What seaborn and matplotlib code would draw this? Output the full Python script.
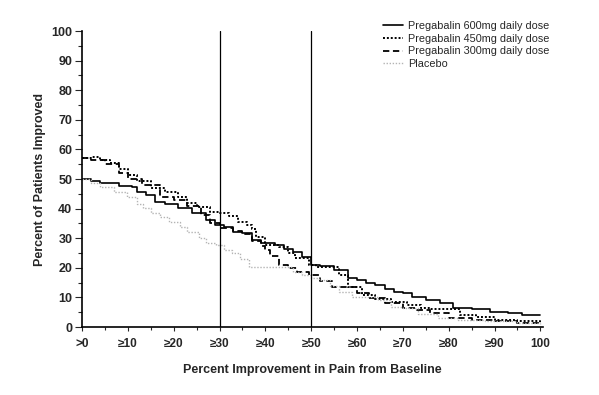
import matplotlib
matplotlib.use("Agg")
import matplotlib.pyplot as plt
import seaborn as sns
from matplotlib.ticker import MultipleLocator

# percent improvement (step breakpoints) and percent of patients improved
x_600 = [0, 2, 4, 8, 11, 12, 14, 16, 18, 21, 24, 27, 29, 31, 33, 35, 37, 39,
         42, 44, 46, 48, 50, 52, 55, 58, 60, 62, 64, 66, 68, 70, 72, 75, 78,
         81, 85, 89, 93, 96, 100]
y_600 = [50, 49.5, 48.8, 47.7, 47.4, 45.7, 44.6, 42.3, 41.5, 40.2, 38.5, 36,
         34.5, 33.8, 32.2, 31.7, 29.5, 28.4, 27.7, 26.5, 25.4, 23.5, 21, 20.5,
         19.3, 16.6, 15.9, 14.9, 14.2, 13, 11.9, 11.4, 10.2, 9.1, 8.1, 6.4, 6,
         5.2, 4.7, 4.2, 4]

x_450 = [0, 2, 4, 6, 8, 10, 12, 15, 18, 21, 23, 25, 28, 30, 32, 34, 36, 37,
         38, 40, 43, 45, 46.5, 49.5, 51, 56, 58, 61, 64, 67.5, 71, 74, 76,
         82.5, 86, 90, 95, 100]
y_450 = [57, 57.5, 56.5, 55.4, 53.5, 51.5, 49.5, 47, 45.5, 44, 42, 40.6, 39,
         38.4, 37.5, 35.6, 34.5, 33, 30.5, 27.7, 27, 25, 23.2, 21, 20.4, 17.6,
         13.6, 10.8, 9.5, 8.5, 7.5, 6.5, 6.1, 4, 3.5, 2.4, 2, 1.5]

x_300 = [0, 2, 5, 8, 10, 13, 17, 20, 23, 26, 28, 30, 33, 35, 37, 39, 40, 41,
         43, 45, 47, 49.5, 52, 54.5, 58, 60, 62.5, 66, 70, 73, 76, 80, 85, 90,
         95, 100]
y_300 = [57, 56.5, 55, 52, 50, 48, 44, 43, 41, 38, 35, 33.4, 32.5, 31.5, 29,
         27.5, 26, 24, 21, 19.8, 18.5, 17.6, 15.5, 13.6, 13.6, 11.5, 9.7, 8,
         6.3, 5.7, 4.6, 2.9, 2.5, 2, 1.5, 1.3]

x_pbo = [0, 2, 4, 7, 9.7, 12, 13.3, 15, 17, 19, 21.3, 23, 25.6, 27, 29.2, 31,
         32.8, 34.5, 36.4, 45, 46, 48, 50, 51.6, 54, 56, 58.8, 64.6, 67.5, 70,
         73.3, 77.7, 82, 88, 95, 100]
y_pbo = [50, 48.5, 47.4, 45.5, 44, 41.5, 40.1, 38.5, 37.3, 35.5, 33.9, 32, 30,
         28.5, 27.7, 26, 24.9, 23, 20.4, 20.4, 18.5, 17.5, 16.5, 15.9, 14, 12,
         10.2, 9.1, 6.9, 6.5, 4.5, 2.9, 2.5, 2, 1.5, 1]

x_ticks = [0, 10, 20, 30, 40, 50, 60, 70, 80, 90, 100]
x_ticklabels = [">0", "≥10", "≥20", "≥30", "≥40", "≥50", "≥60", "≥70",
                "≥80", "≥90", "100"]
ref_lines = [30, 50]

sns.set_theme(style="white")
plt.rcParams['font.family'] = ['Liberation Sans', 'DejaVu Sans']

fig = plt.figure(figsize=(5.99, 3.95), dpi=100)
ax = fig.add_axes([0.137, 0.172, 0.769, 0.7495])

sns.lineplot(x=x_600, y=y_600, ax=ax, color="black", linewidth=1.2,
             drawstyle="steps-post", estimator=None,
             label="Pregabalin 600mg daily dose")
sns.lineplot(x=x_450, y=y_450, ax=ax, color="black", linewidth=1.4,
             linestyle=(0, (1, 1)), drawstyle="steps-post", estimator=None,
             label="Pregabalin 450mg daily dose")
sns.lineplot(x=x_300, y=y_300, ax=ax, color="black", linewidth=1.3,
             linestyle=(0, (3.5, 2)), drawstyle="steps-post", estimator=None,
             label="Pregabalin 300mg daily dose")
sns.lineplot(x=x_pbo, y=y_pbo, ax=ax, color="#b4b4b4", linewidth=1.0,
             linestyle=(0, (1, 1.2)), drawstyle="steps-post", estimator=None,
             label="Placebo")

for xv in ref_lines:
    ax.plot([xv, xv], [0, 100], color="black", linewidth=0.9)

ax.set_xlim(0, 100.5)
ax.set_ylim(0, 100)
ax.set_xticks(x_ticks)
ax.set_xticklabels(x_ticklabels, fontsize=8.5, fontweight="bold")
ax.xaxis.set_minor_locator(MultipleLocator(5))
ax.set_yticks(range(0, 101, 10))
ax.yaxis.set_minor_locator(MultipleLocator(5))
ax.tick_params(axis="y", labelsize=9, width=0.8, length=5, direction="out",
               left=True, pad=2)
ax.tick_params(axis="y", which="minor", length=3, width=0.8, left=True)
ax.tick_params(axis="x", width=0.8, length=3, direction="out", bottom=True,
               pad=5)
ax.tick_params(axis="x", which="minor", length=2, width=0.8, bottom=True)
for lab in ax.get_yticklabels():
    lab.set_fontweight("bold")

ax.set_xlabel("Percent Improvement in Pain from Baseline", fontsize=9,
              fontweight="bold", labelpad=10)
ax.set_ylabel("Percent of Patients Improved", fontsize=9,
              fontweight="bold", labelpad=4)

sns.despine(ax=ax)
for side in ["left", "bottom"]:
    ax.spines[side].set_color("black")
    ax.spines[side].set_linewidth(1.2)

ax.legend(loc="upper left", bbox_to_anchor=(383 / 599, 1 - 21 / 395),
          bbox_transform=fig.transFigure, frameon=False, fontsize=7.8,
          handlelength=1.8, handletextpad=0.55, labelspacing=0.25,
          borderpad=0, borderaxespad=0)

fig.savefig("out.png", dpi=100)
